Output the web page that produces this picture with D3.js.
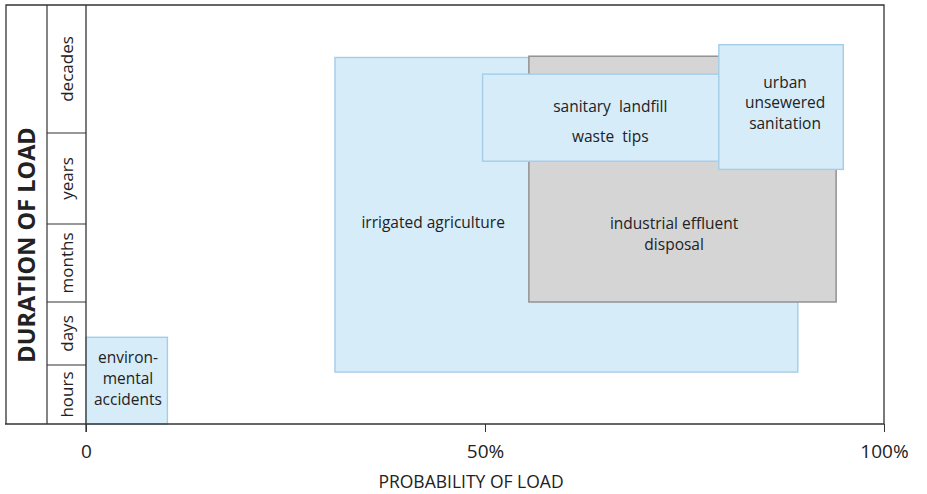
<!DOCTYPE html>
<html>
<head>
<meta charset="utf-8">
<script src="https://cdn.jsdelivr.net/npm/d3@7"></script>
<style>
  body { margin: 0; background: #fff; }
  text { font-family: "Open Sans", Lato, sans-serif; fill: #222; }
</style>
</head>
<body>
<div id="chart"></div>
<script>
"use strict";

// duration classes, bottom to top
var durations = ["hours", "days", "months", "years", "decades"];

// load sources (drawing order), probability range in % and duration range in class units (0 = start of hours, 5 = top of decades)
var loadNames = ["irrigated agriculture", "industrial effluent disposal", "sanitary landfill waste tips", "urban unsewered sanitation", "environmental accidents"];
var loadLabels = [["irrigated agriculture"], ["industrial effluent", "disposal"], ["sanitary  landfill", "waste  tips"], ["urban", "unsewered", "sanitation"], ["environ-", "mental", "accidents"]];
var probLow  = [31.2, 55.5, 49.7, 79.3, 0];
var probHigh = [89.2, 94.0, 79.5, 94.9, 10.2];
var durLow   = [0.88, 2.0, 3.69, 3.60, 0.0];
var durHigh  = [4.59, 4.60, 4.46, 4.69, 1.44];
var loadKind = ["blue", "grey", "blue", "blue", "blue"];

var xTicks = [0, 50, 100];

var W = 927, H = 494;
var frameLeft = 6, labelCol = 47, plotLeft = 86, plotRight = 884, plotTop = 5, plotBottom = 424;

var x = d3.scaleLinear().domain([0, 100]).range([plotLeft, plotRight]);
// duration classes have unequal heights in the original figure
var y = d3.scaleLinear().domain([0, 1, 2, 3, 4, 5]).range([plotBottom, 365, 302, 224, 133, plotTop]);

var fills = { blue: "#d7ecf9", grey: "#d5d5d6" };
var strokes = { blue: "#a3cde9", grey: "#8c8c8c" };

var svg = d3.select("#chart").append("svg")
    .attr("width", W).attr("height", H);

// outer frame
svg.append("path")
    .attr("d", "M" + frameLeft + "," + plotBottom + "V" + plotTop + "H" + plotRight + "V" + plotBottom)
    .attr("fill", "none").attr("stroke", "#333").attr("stroke-width", 1.3);

// boxes
var boxes = svg.append("g");
loadNames.forEach(function(name, i) {
  boxes.append("rect")
      .attr("x", x(probLow[i]))
      .attr("y", y(durHigh[i]))
      .attr("width", x(probHigh[i]) - x(probLow[i]))
      .attr("height", y(durLow[i]) - y(durHigh[i]))
      .attr("fill", fills[loadKind[i]])
      .attr("stroke", strokes[loadKind[i]])
      .attr("stroke-width", 1.4);
});

// box labels (centre given in data units)
var labelX = [43.5, 73.7, 65.7, 87.6, 5.26];
var labelY = [3.02, 2.865, 4.086, 4.234, 0.763];
var lineGap = [0, 21, 30, 20.5, 21];
loadLabels.forEach(function(lines, i) {
  var t = svg.append("text")
      .attr("text-anchor", "middle")
      .attr("font-size", 15.5)
      .style("white-space", "pre");
  var y0 = y(labelY[i]) - (lines.length - 1) * lineGap[i] / 2;
  lines.forEach(function(l, j) {
    t.append("tspan")
        .attr("x", x(labelX[i]))
        .attr("y", y0 + j * lineGap[i])
        .attr("dy", "0.35em")
        .text(l);
  });
});

// left columns: duration classes
svg.append("line")
    .attr("x1", labelCol).attr("x2", labelCol).attr("y1", plotTop).attr("y2", plotBottom)
    .attr("stroke", "#333").attr("stroke-width", 1.2);
svg.append("line")
    .attr("x1", plotLeft).attr("x2", plotLeft).attr("y1", plotTop).attr("y2", plotBottom + 8)
    .attr("stroke", "#333").attr("stroke-width", 1.3);

svg.selectAll(".dur-sep").data(d3.range(1, durations.length))
  .join("line")
    .attr("class", "dur-sep")
    .attr("x1", labelCol).attr("x2", plotLeft)
    .attr("y1", d => y(d)).attr("y2", d => y(d))
    .attr("stroke", "#333").attr("stroke-width", 1.1);

svg.selectAll(".dur-label").data(durations)
  .join("text")
    .attr("class", "dur-label")
    .attr("transform", (d, i) => "translate(" + ((labelCol + plotLeft) / 2 + 1) + "," + y(i + 0.5) + ") rotate(-90)")
    .attr("text-anchor", "middle")
    .attr("dy", "0.35em")
    .attr("font-size", 17)
    .text(d => d);

svg.append("text")
    .attr("transform", "translate(" + ((frameLeft + labelCol) / 2) + ",245) rotate(-90)")
    .attr("text-anchor", "middle")
    .attr("dy", "0.35em")
    .attr("font-size", 23.5)
    .attr("font-weight", "bold")
    .text("DURATION OF LOAD");

// bottom axis
svg.append("line")
    .attr("x1", frameLeft - 1).attr("x2", plotRight).attr("y1", plotBottom).attr("y2", plotBottom)
    .attr("stroke", "#333").attr("stroke-width", 1.4);

var xAxis = d3.axisBottom(x).tickValues(xTicks)
    .tickFormat(d => d === 0 ? "0" : d + "%")
    .tickSize(8).tickPadding(13);
var gx = svg.append("g")
    .attr("transform", "translate(0," + plotBottom + ")")
    .call(xAxis);
gx.select(".domain").remove();
gx.selectAll("line").attr("stroke", "#333");
gx.selectAll("text")
    .attr("font-size", 19)
    .style("font-family", "'Open Sans', Lato, sans-serif")
    .attr("fill", "#222");

svg.append("text")
    .attr("x", x(50) - 14).attr("y", 488)
    .attr("text-anchor", "middle")
    .attr("font-size", 17.5)
    .text("PROBABILITY OF LOAD");
</script>
</body>
</html>
